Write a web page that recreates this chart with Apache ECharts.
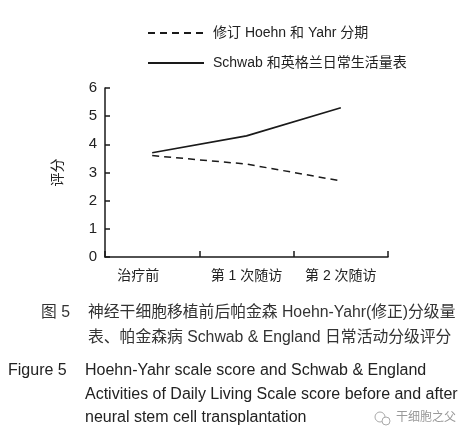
<!DOCTYPE html>
<html>
<head>
<meta charset="utf-8">
<script src="https://cdn.jsdelivr.net/npm/echarts@6/dist/echarts.min.js"></script>
<style>
html, body { margin: 0; padding: 0; background: #fff; }
#chart { width: 466px; height: 439px; }
</style>
</head>
<body>
<div id="chart"></div>
<script>
// 数据
var categories = ["治疗前", "第 1 次随访", "第 2 次随访"];
var hoehnYahr = [3.6, 3.3, 2.7];
var schwab = [3.7, 4.3, 5.3];
var seriesNames = ["修订 Hoehn 和 Yahr 分期", "Schwab 和英格兰日常生活量表"];
var yTicks = [0, 1, 2, 3, 4, 5, 6];

var cjk = '"Liberation Sans", "Noto Sans CJK SC", sans-serif';
var ink = "#1a1a1a";

function caption(text, x, y, size, color) {
	return {
		type: "text",
		x: x,
		y: y,
		style: {
			text: text,
			fill: color || "#222",
			font: (size || 16) + "px " + cjk,
			verticalAlign: "middle"
		}
	};
}

var myChart = echarts.init(document.getElementById("chart"));

var option = {
	backgroundColor: "#fff",
	textStyle: { fontFamily: cjk },
	legend: {
		orient: "vertical",
		left: 142,
		top: 21,
		itemWidth: 56,
		itemHeight: 10,
		itemGap: 16,
		itemStyle: { opacity: 0 },
		textStyle: { color: "#222", fontSize: 14, fontFamily: cjk, padding: [0, 0, 0, 4] },
		data: seriesNames
	},
	grid: {
		left: 105,
		right: 78,
		top: 88,
		bottom: 182
	},
	xAxis: {
		type: "category",
		data: categories,
		boundaryGap: true,
		axisLine: { lineStyle: { color: ink, width: 1.5 } },
		axisTick: { show: true, inside: true, length: 6, lineStyle: { color: ink, width: 1.5 } },
		axisLabel: {
			color: "#222",
			fontSize: 14,
			margin: 12,
			formatter: function (v, i) {
				return i === 0 ? "{a|" + v + "}" : v;
			},
			rich: { a: { fontSize: 14, color: "#222", padding: [0, 28, 0, 0] } }
		},
		splitLine: { show: false }
	},
	yAxis: {
		type: "value",
		min: 0,
		max: 6,
		interval: 1,
		name: "评分",
		nameLocation: "middle",
		nameGap: 40,
		nameTextStyle: { color: "#222", fontSize: 14 },
		axisLine: { show: true, lineStyle: { color: ink, width: 1.5 } },
		axisTick: { show: true, inside: true, length: 5, lineStyle: { color: ink, width: 1.5 } },
		axisLabel: {
			color: "#222",
			fontSize: 15,
			margin: 8,
			formatter: function (v) { return yTicks.indexOf(v) >= 0 ? String(v) : ""; }
		},
		splitLine: { show: false }
	},
	series: [
		{
			name: seriesNames[0],
			type: "line",
			data: hoehnYahr,
			symbol: "none",
			lineStyle: { color: ink, width: 1.5, type: [7, 5] },
			itemStyle: { color: ink }
		},
		{
			name: seriesNames[1],
			type: "line",
			data: schwab,
			symbol: "none",
			lineStyle: { color: ink, width: 1.6, type: "solid" },
			itemStyle: { color: ink }
		}
	],
	graphic: [
		caption("图 5", 41, 313, 15.8, "#333"),
		caption("神经干细胞移植前后帕金森 Hoehn-Yahr(修正)分级量", 88, 313, 15.8, "#333"),
		caption("表、帕金森病 Schwab & England 日常活动分级评分", 88, 338, 15.8, "#333"),
		caption("Figure 5", 8, 371, 16),
		caption("Hoehn-Yahr scale score and Schwab & England", 85, 371, 16),
		caption("Activities of Daily Living Scale score before and after", 85, 395, 16),
		caption("neural stem cell transplantation", 85, 418, 16),
		{
			type: "circle",
			shape: { cx: 380, cy: 417, r: 5 },
			style: { fill: "none", stroke: "#aaa", lineWidth: 1 }
		},
		{
			type: "circle",
			shape: { cx: 386, cy: 421, r: 4 },
			style: { fill: "#fff", stroke: "#aaa", lineWidth: 1 }
		},
		caption("干细胞之父", 396, 418, 12, "#999")
	]
};

myChart.clear();
myChart.setOption(option);
</script>
</body>
</html>
